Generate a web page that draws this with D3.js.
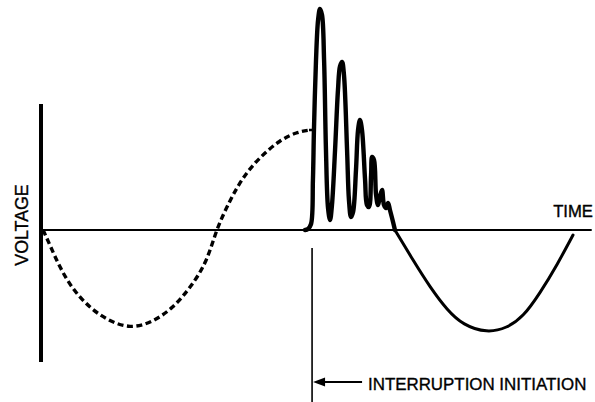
<!DOCTYPE html>
<html>
<head>
<meta charset="utf-8">
<script src="https://cdn.jsdelivr.net/npm/d3@7"></script>
<style>
  html, body { margin: 0; padding: 0; background: #fff; }
  svg { display: block; }
  text { font-family: "Liberation Sans", Arial, sans-serif; fill: #000; stroke: #000; stroke-width: 0.35px; }
</style>
</head>
<body>
<svg id="chart" width="595" height="402"></svg>
<script>
// ---- data (time in ms, voltage in per-unit) ----
const prefaultTime = [0.12, 0.52, 1.11, 1.87, 2.86, 3.85, 5.19, 6.53, 7.69, 8.69, 9.68, 10.20, 11.02, 11.77, 12.76, 13.93, 14.92, 15.68];
const prefaultVolt = [0, -0.15, -0.38, -0.60, -0.78, -0.90, -0.99, -0.92, -0.78, -0.58, -0.32, 0, 0.30, 0.53, 0.73, 0.90, 0.98, 1.00];

const transientTime = [15.39, 15.56, 15.74, 15.85, 15.91, 16.03, 16.15, 16.26, 16.38, 16.50, 16.61, 16.73, 16.85, 16.96, 17.14, 17.31, 17.43, 17.55, 17.66, 17.84, 17.95, 18.07, 18.19, 18.36, 18.48, 18.59, 18.71, 18.89, 19.00, 19.12, 19.24, 19.30, 19.41, 19.53, 19.64, 19.76, 19.88, 19.99, 20.11, 20.23, 20.34, 20.52, 20.63];
const transientVolt = [0, 0.01, 0.06, 0.50, 1.00, 1.70, 2.10, 2.21, 2.15, 1.70, 0.80, 0.22, 0.10, 0.25, 0.80, 1.40, 1.64, 1.68, 1.55, 0.80, 0.30, 0.13, 0.18, 0.60, 1.00, 1.10, 1.00, 0.50, 0.25, 0.23, 0.55, 0.73, 0.70, 0.35, 0.25, 0.34, 0.40, 0.25, 0.22, 0.27, 0.20, 0.08, 0];

const postTime = [20.63, 21.68, 22.67, 23.67, 24.60, 26.00, 27.16, 28.10, 29.09, 30.08, 31.01];
const postVolt = [0, -0.30, -0.57, -0.80, -0.95, -1.03, -0.98, -0.87, -0.63, -0.35, -0.05];

const interruptionTime = 15.80;   // ms, marker position
const capTime = [15.62, 15.91];   // short solid tick where dashed curve meets transient
const axisTimeExtent = [0, 32.1];
const axisVoltExtent = [-1.32, 1.26];

const labels = { x: "TIME", y: "VOLTAGE", marker: "INTERRUPTION INITIATION" };

// ---- scales ----
const svg = d3.select("#chart");
const x = d3.scaleLinear().domain([0, 32]).range([41, 590]);
const y = d3.scaleLinear().domain([-1, 1]).range([330, 130]);

const zip = (ts, vs) => ts.map((t, i) => ({ t, v: vs[i] }));
const spikeLine = d3.line().x(d => x(d.t)).y(d => y(d.v)).curve(d3.curveCatmullRom.alpha(0.5));
const smoothLine = d3.line().x(d => x(d.t)).y(d => y(d.v)).curve(d3.curveBasis);

// ---- axes ----
svg.append("line")
  .attr("x1", x(axisTimeExtent[0])).attr("x2", x(axisTimeExtent[1]))
  .attr("y1", y(0)).attr("y2", y(0))
  .attr("stroke", "#000").attr("stroke-width", 2);

svg.append("line")
  .attr("x1", x(0)).attr("x2", x(0))
  .attr("y1", y(axisVoltExtent[1])).attr("y2", y(axisVoltExtent[0]))
  .attr("stroke", "#000").attr("stroke-width", 4);

// ---- prefault (dashed) ----
svg.append("path")
  .datum(zip(prefaultTime, prefaultVolt))
  .attr("d", smoothLine)
  .attr("fill", "none").attr("stroke", "#000")
  .attr("stroke-width", 3.4).attr("stroke-dasharray", "6,3.5");

// tick at the end of dashed curve
svg.append("line")
  .attr("x1", x(capTime[0])).attr("x2", x(capTime[1]))
  .attr("y1", y(1)).attr("y2", y(1))
  .attr("stroke", "#000").attr("stroke-width", 2.5);

// ---- transient (solid, thick) ----
svg.append("path")
  .datum(zip(transientTime, transientVolt))
  .attr("d", spikeLine)
  .attr("fill", "none").attr("stroke", "#000")
  .attr("stroke-width", 4.4).attr("stroke-linejoin", "round").attr("stroke-linecap", "round");

// ---- post-interruption (solid) ----
svg.append("path")
  .datum(zip(postTime, postVolt))
  .attr("d", smoothLine)
  .attr("fill", "none").attr("stroke", "#000")
  .attr("stroke-width", 3).attr("stroke-linecap", "round");

// ---- interruption marker ----
const mx = x(interruptionTime);
svg.append("line")
  .attr("x1", mx).attr("x2", mx)
  .attr("y1", y(-0.18)).attr("y2", 402)
  .attr("stroke", "#000").attr("stroke-width", 1.6);

const ay = 382;
svg.append("line")
  .attr("x1", mx + 10).attr("x2", mx + 50)
  .attr("y1", ay).attr("y2", ay)
  .attr("stroke", "#000").attr("stroke-width", 1.8);
svg.append("path")
  .attr("d", `M${mx + 1},${ay} L${mx + 13},${ay - 4.5} L${mx + 13},${ay + 4.5} Z`)
  .attr("fill", "#000");

// ---- labels ----
svg.append("text")
  .attr("x", 593).attr("y", 217)
  .attr("text-anchor", "end")
  .style("font-size", "16.7px")
  .text(labels.x);

svg.append("text")
  .attr("transform", "translate(28,225) rotate(-90)")
  .attr("text-anchor", "middle")
  .style("font-size", "17.8px")
  .text(labels.y);

svg.append("text")
  .attr("x", 368).attr("y", 390)
  .style("font-size", "16.9px")
  .text(labels.marker);
</script>
</body>
</html>
